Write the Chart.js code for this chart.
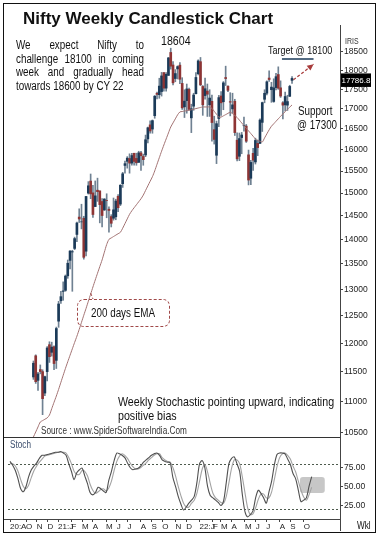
<!DOCTYPE html>
<html><head><meta charset="utf-8">
<script src="https://cdn.jsdelivr.net/npm/chart.js@4.4.0/dist/chart.umd.min.js"></script>
<style>
html,body{margin:0;padding:0;background:#fff;}
body{width:386px;height:546px;position:relative;overflow:hidden;font-family:"Liberation Sans",Arial,sans-serif;color:#111;}
canvas{position:absolute;left:0;top:0;}
.t{position:absolute;white-space:nowrap;line-height:1;}
.n{transform:scaleX(0.82);transform-origin:0 0;}
#frame{position:absolute;left:3px;top:3px;width:371px;height:528px;border:1.5px solid #111;}
#title{left:23px;top:9px;font:bold 17px "Liberation Sans",Arial,sans-serif;}
#note{position:absolute;left:16px;top:39px;width:156px;font-size:12px;line-height:13.7px;transform:scaleX(0.82);transform-origin:0 0;}
#note div{text-align:justify;text-align-last:justify;white-space:nowrap;}
#note div.last{text-align:left;text-align-last:left;}
#emaBox{position:absolute;left:77px;top:299px;width:93px;height:28px;box-sizing:border-box;border:1px dashed #a04848;border-radius:7px;font-size:12px;line-height:26px;text-align:center;}
#emaBox span{display:inline-block;transform:scaleX(0.82);transform-origin:50% 50%;}
</style></head>
<body>
<div id="frame"></div>
<canvas id="price" width="386" height="546"></canvas>
<canvas id="stoch" width="386" height="546"></canvas>
<div class="t" id="title">Nifty Weekly Candlestick Chart</div>
<div id="note"><div>We expect Nifty to</div><div>challenge 18100 in coming</div><div>week and gradually head</div><div class="last">towards 18600 by CY 22</div></div>
<div class="t n" style="left:161px;top:34px;font-size:13px;">18604</div>
<div class="t n" style="left:268px;top:45px;font-size:11px;">Target @ 18100</div>
<div class="t n" style="left:298px;top:105px;font-size:12px;">Support</div>
<div class="t n" style="left:297px;top:119px;font-size:12px;">@ 17300</div>
<div id="emaBox"><span>200 days EMA</span></div>
<div class="t n" style="left:118px;top:395px;font-size:13px;">Weekly Stochastic pointing upward, indicating</div>
<div class="t n" style="left:118px;top:409px;font-size:13px;">positive bias</div>
<div class="t n" style="left:41px;top:426px;font-size:10px;color:#333;">Source : www.SpiderSoftwareIndia.Com</div>
<div class="t n" style="left:10px;top:440px;font-size:10px;color:#3d4f6e;">Stoch</div>
<div class="t n" style="left:357px;top:521px;font-size:10px;">Wkl</div>
<div class="t n" style="left:345px;top:37px;font-size:8.5px;color:#333;">IRIS</div>
<script>
const weeks = ['2020-08-28','2020-09-04','2020-09-11','2020-09-18','2020-09-25','2020-10-02','2020-10-09','2020-10-16','2020-10-23','2020-10-30','2020-11-06','2020-11-13','2020-11-20','2020-11-27','2020-12-04','2020-12-11','2020-12-18','2020-12-24',
'2021-01-01','2021-01-08','2021-01-15','2021-01-22','2021-01-29','2021-02-05','2021-02-12','2021-02-19','2021-02-26','2021-03-05','2021-03-12','2021-03-19','2021-03-26','2021-04-01','2021-04-09','2021-04-16','2021-04-23','2021-04-30','2021-05-07','2021-05-14','2021-05-21','2021-05-28','2021-06-04','2021-06-11','2021-06-18','2021-06-25','2021-07-02','2021-07-09','2021-07-16','2021-07-23','2021-07-30','2021-08-06','2021-08-13','2021-08-20','2021-08-27','2021-09-03','2021-09-10','2021-09-17','2021-09-24','2021-10-01','2021-10-08','2021-10-15','2021-10-22','2021-10-29','2021-11-04','2021-11-12','2021-11-19','2021-11-26','2021-12-03','2021-12-10','2021-12-17','2021-12-24','2021-12-31',
'2022-01-07','2022-01-14','2022-01-21','2022-01-28','2022-02-04','2022-02-11','2022-02-18','2022-02-25','2022-03-04','2022-03-11','2022-03-17','2022-03-25','2022-04-01','2022-04-08','2022-04-13','2022-04-22','2022-04-29','2022-05-06','2022-05-13','2022-05-20','2022-05-27','2022-06-03','2022-06-10','2022-06-17','2022-06-24','2022-07-01','2022-07-08','2022-07-15','2022-07-22','2022-07-29','2022-08-05','2022-08-12','2022-08-19','2022-08-26','2022-09-02','2022-09-09','2022-09-16','2022-09-23','2022-09-30','2022-10-07','2022-10-14','2022-10-21','2022-10-28'];

const open  = [11412,11777,11355,11539,11503,11142,11503,11973,11838,11937,11697,12399,12781,12960,12980,13264,13572,13742,
13815,14105,14474,14371,14449,13758,14999,15270,15004,14702,15064,15048,14813,14628,14837,14644,14485,14449,14481,14928,14756,15211,15629,15725,15791,15683,15915,15793,15700,15923,15839,15874,16258,16600,16497,16828,17400,17363,17443,17941,17532,17867,18487,18145,17784,18040,18141,17655,17051,17209,17499,16774,17068,
17387,17913,18235,17575,17339,17456,17103,17192,16482,15867,16757,17329,17181,17810,17583,17183,16999,17193,16227,15843,16290,16578,16570,15877,15334,15912,15710,16151,16150,16662,17244,17401,17797,17491,17188,17546,17890,17540,17156,17102,17094,17322,17736];
const high  = [11686,11794,11493,11618,11535,11428,11939,12025,12018,11954,12290,12770,12963,13145,13280,13579,13773,13777,
14049,14367,14653,14753,14491,14925,15257,15431,15176,15273,15336,15048,14878,14876,14984,14697,14526,14890,14863,14967,15189,15469,15733,15835,15901,15915,15915,15915,15962,15962,15893,16350,16543,16701,16722,17340,17430,17792,17947,17943,17941,18351,18604,18241,18022,18123,18210,17806,17489,17639,17534,17118,17400,
17944,18286,18350,17599,17794,17640,17490,17351,16815,16694,17344,17442,17704,18114,17595,17414,17400,17244,16404,16400,16415,16793,16610,15990,15749,16033,16275,16229,16752,17172,17490,17724,17992,17685,17777,17925,18096,17723,17188,17428,17348,17607,17838];
const low   = [11371,11303,11185,11465,10790,11101,11347,11661,11771,11535,11557,12286,12730,12790,12962,13214,13402,12962,
13790,13954,14357,14222,13596,13662,14977,14875,14467,14702,14816,14350,14264,14617,14459,14151,14263,14408,14416,14591,14723,15126,15450,15566,15450,15635,15635,15632,15700,15513,15633,15834,16162,16395,16395,16764,17254,17269,17326,17452,17452,17865,18034,17613,17699,17772,17648,16985,16782,16891,16966,16410,16964,
17384,17880,17599,16837,17245,16809,16810,16203,16133,15671,16556,16838,16978,17600,17442,16824,16889,16340,15735,15740,15903,16444,16172,15183,15191,15511,15661,15858,16140,16438,17154,17359,17710,17166,17167,17487,17500,17291,16747,16950,16960,17311,17656];
const close = [11647,11333,11464,11505,11050,11417,11914,11762,11930,11642,12264,12720,12859,12969,13258,13514,13761,13749,
14018,14347,14433,14372,13634,14924,15163,14982,14529,14938,15031,14744,14507,14867,14834,14617,14341,14631,14823,14677,15175,15436,15670,15799,15683,15860,15722,15690,15924,15856,15763,16238,16529,16450,16705,17323,17369,17585,17853,17532,17895,18338,18114,17671,17916,18102,17765,17026,17196,17511,16985,17003,17354,
17812,18256,17617,17102,17516,17374,17276,16658,16245,16630,17287,17153,17670,17784,17475,17171,17102,16411,15782,16266,16352,16584,16202,15293,15699,15752,16220,16049,16719,17158,17398,17698,17758,17559,17539,17833,17531,17327,17094,17315,17185,17576,17786.8];

const ema200 = [10438,10516,10595,10673,10695,10717,10738,10784,10887,10990,11093,11203,11322,11440,11559,11673,11786,11900,12013,12126,
12248,12378,12508,12637,12772,12908,13045,13181,13314,13447,13580,13738,13895,14002,14032,14061,14091,14120,14150,14236,
14335,14435,14534,14610,14676,14741,14807,14873,14954,15058,15161,15265,15369,15502,15656,15809,15963,16111,16257,16403,
16548,16649,16749,16850,16923,16933,16944,16954,16965,16977,16992,17007,17021,17036,17048,17048,17048,17048,17012,16939,
16866,16794,16794,16824,16855,16886,16917,16879,16834,16784,16717,16649,16582,16516,16451,16387,16322,16258,16220,16201,
16182,16281,16380,16479,16566,16627,16689,16750,16812,16872,16929,16986,17043,17100];

const stochK = [83,78,71,60,47,43,50,63,72,77, 81,87,91,91,92,93,94,95,95,96, 94,91,80,70,59,68,72,74,64,54, 42,39,42,49,47,44,42,58,70,84,
94,93,91,88,81,75,72,73,74,77, 82,85,88,91,93,94,91,85,83, 82,81,62,50,37,27,19,23,28,32, 37,55,80,84,74,50,38,35,32,29,
25,31,55,80,87,89,80,70,40,17, 10,13,18,35,45,41,35,28,43,57, 78,92,94,94,93,86,79,67,60,45, 30,32,35,50,63];
const stochD = [80,80,77,70,59,50,47,52,62,71, 77,82,86,90,91,92,93,94,95,95, 95,94,88,80,70,66,66,71,70,64, 53,45,41,43,46,47,44,48,57,71,
83,90,93,91,87,81,76,73,73,75, 78,81,85,88,91,93,93,88,85, 83,82,75,64,50,38,28,23,23,28, 32,41,57,73,79,69,54,41,35,32,
29,28,37,55,74,85,85,80,63,42, 22,13,14,22,33,40,40,35,35,43, 59,76,88,93,94,91,86,77,69,57, 45,36,32,39,49];

const priceTicks = [10500,11000,11500,12000,12500,13000,13500,14000,14500,15000,15500,16000,16500,17000,17500,18000,18500];
const stochTicks = [25,50,75];
const stochLevels = [80,20];
const monthTickIdx = [0,6,10,14,18,23,27,31,36,40,44,49,53,57,62,66,71,76,79,83,88,92,96,101,105,110];
const monthTickLabels = ['20:A','O','N','D','21:J','F','M','A','M','J','J','A','S','O','N','D','22:J','F','M','A','M','J','J','A','S','O'];

const FONT = '"Liberation Sans",Arial,sans-serif';
const UP = '#1b3a58', DOWN = '#8e3434', WICK = '#6f8192';
const bodyColors = close.map((c, i) => c >= open[i] ? UP : DOWN);
const X_MIN = -0.75, X_MAX = 123.6;

const pricePlugin = {
  id: 'priceDecor',
  afterDraw(chart) {
    const {ctx, chartArea: a, scales: {x, y}} = chart;
    ctx.save();
    ctx.strokeStyle = '#333'; ctx.lineWidth = 1;
    ctx.beginPath(); ctx.moveTo(4, a.bottom + 0.5); ctx.lineTo(a.right, a.bottom + 0.5); ctx.stroke();
    const ty = y.getPixelForValue(18305);
    ctx.strokeStyle = UP; ctx.lineWidth = 1.5;
    ctx.beginPath(); ctx.moveTo(x.getPixelForValue(108.6), ty); ctx.lineTo(x.getPixelForValue(122.4), ty); ctx.stroke();
    const x1 = x.getPixelForValue(113.6), y1 = y.getPixelForValue(17748);
    const x2 = x.getPixelForValue(122.4), y2 = y.getPixelForValue(18166);
    ctx.strokeStyle = '#a83b3b'; ctx.fillStyle = '#a83b3b'; ctx.lineWidth = 1.2; ctx.setLineDash([3, 2]);
    ctx.beginPath(); ctx.moveTo(x1, y1); ctx.lineTo(x2, y2); ctx.stroke();
    ctx.setLineDash([]);
    const ang = Math.atan2(y2 - y1, x2 - x1), L = 7;
    ctx.beginPath(); ctx.moveTo(x2, y2);
    ctx.lineTo(x2 - L * Math.cos(ang - 0.45), y2 - L * Math.sin(ang - 0.45));
    ctx.lineTo(x2 - L * Math.cos(ang + 0.45), y2 - L * Math.sin(ang + 0.45));
    ctx.closePath(); ctx.fill();
    ctx.strokeStyle = '#a04848'; ctx.lineWidth = 1; ctx.setLineDash([3, 2]);
    ctx.beginPath(); ctx.moveTo(x.getPixelForValue(25), y.getPixelForValue(ema200[25]) - 1); ctx.lineTo(93, 299); ctx.stroke();
    ctx.setLineDash([]);
    const last = close.length - 1;
    const yc = y.getPixelForValue(close[last]);
    ctx.fillStyle = '#000'; ctx.fillRect(a.right + 1, yc - 5, 30, 13.5);
    ctx.fillStyle = '#fff'; ctx.font = '8px ' + FONT; ctx.textBaseline = 'middle'; ctx.textAlign = 'left';
    ctx.fillText(close[last].toFixed(1), a.right + 1.5, yc + 2);
    ctx.restore();
  }
};

new Chart(document.getElementById('price'), {
  type: 'bar',
  data: {
    datasets: [
      {type: 'line', label: 'EMA', data: ema200.map((v, i) => ({x: i, y: v})), borderColor: '#a27272', borderWidth: 1, pointRadius: 0, tension: 0.25, order: 0},
      {label: 'wick', data: weeks.map((w, i) => ({x: i, y: [low[i], high[i]]})), backgroundColor: WICK, barThickness: 1, grouped: false, order: 2},
      {label: 'body', data: weeks.map((w, i) => ({x: i, y: [Math.min(open[i], close[i]), Math.max(open[i], close[i])]})), backgroundColor: bodyColors, barThickness: 2, grouped: false, order: 1}
    ]
  },
  options: {
    responsive: false, animation: false, events: [], devicePixelRatio: 1,
    layout: {padding: {left: 8, top: 25, right: 0, bottom: 109}},
    plugins: {legend: {display: false}, tooltip: {enabled: false}},
    scales: {
      x: {type: 'linear', min: X_MIN, max: X_MAX, display: false},
      y: {type: 'logarithmic', position: 'right', min: 10437.7, max: 19257,
        afterBuildTicks: s => { s.ticks = priceTicks.map(v => ({value: v})); },
        afterFit: s => { s.width = 46; },
        ticks: {callback: v => String(v), autoSkip: false, font: {family: FONT, size: 8.5}, color: '#222', padding: 1},
        grid: {drawOnChartArea: false, drawTicks: true, tickLength: 3, color: '#444'},
        border: {display: true, color: '#444'}
      }
    }
  },
  plugins: [pricePlugin]
});

const stochPlugin = {
  id: 'stochDecor',
  beforeDatasetsDraw(chart) {
    const {ctx, chartArea: a, scales: {x, y}} = chart;
    ctx.save();
    const bx1 = x.getPixelForValue(108.6), bx2 = x.getPixelForValue(117.9);
    const by1 = y.getPixelForValue(62.5), by2 = y.getPixelForValue(41.4);
    ctx.fillStyle = 'rgba(175,175,175,0.7)';
    ctx.beginPath();
    if (ctx.roundRect) ctx.roundRect(bx1, by1, bx2 - bx1, by2 - by1, 3); else ctx.rect(bx1, by1, bx2 - bx1, by2 - by1);
    ctx.fill();
    ctx.strokeStyle = '#4d5a4d'; ctx.lineWidth = 1; ctx.setLineDash([2, 2]);
    stochLevels.forEach(l => {
      const py = Math.round(y.getPixelForValue(l)) + 0.5;
      ctx.beginPath(); ctx.moveTo(a.left, py); ctx.lineTo(a.right, py); ctx.stroke();
    });
    ctx.restore();
  },
  afterDraw(chart) {
    const {ctx, chartArea: a} = chart;
    ctx.save();
    ctx.strokeStyle = '#444'; ctx.lineWidth = 1;
    ctx.beginPath(); ctx.moveTo(a.right + 0.5, a.bottom); ctx.lineTo(a.right + 0.5, a.bottom + 12); ctx.stroke();
    ctx.beginPath(); ctx.moveTo(4, a.bottom + 0.5); ctx.lineTo(a.left, a.bottom + 0.5); ctx.stroke();
    ctx.restore();
  }
};

new Chart(document.getElementById('stoch'), {
  type: 'line',
  data: {
    datasets: [
      {label: '%K', data: stochK.map((v, i) => ({x: i, y: v})), borderColor: '#505050', borderWidth: 1.1, pointRadius: 0, tension: 0.3},
      {label: '%D', data: stochD.map((v, i) => ({x: i, y: v})), borderColor: '#a3a3a3', borderWidth: 1.1, pointRadius: 0, tension: 0.3}
    ]
  },
  options: {
    responsive: false, animation: false, events: [], devicePixelRatio: 1,
    layout: {padding: {left: 8, top: 437, right: 0, bottom: 13}},
    plugins: {legend: {display: false}, tooltip: {enabled: false}},
    scales: {
      x: {type: 'linear', min: X_MIN, max: X_MAX, position: 'bottom',
        afterBuildTicks: s => { s.ticks = monthTickIdx.map(v => ({value: v})); },
        afterFit: s => { s.height = 14; },
        ticks: {callback: (v, i) => monthTickLabels[i], align: 'start', autoSkip: false, maxRotation: 0, font: {family: FONT, size: 8}, color: '#222', padding: 0},
        grid: {drawOnChartArea: false, drawTicks: true, tickLength: 3, color: '#444'},
        border: {display: true, color: '#444'}
      },
      y: {position: 'right', min: 7.2, max: 115.1,
        afterBuildTicks: s => { s.ticks = stochTicks.map(v => ({value: v})); },
        afterFit: s => { s.width = 46; },
        ticks: {callback: v => Number(v).toFixed(2), autoSkip: false, font: {family: FONT, size: 8.5}, color: '#222', padding: 1},
        grid: {drawOnChartArea: false, drawTicks: true, tickLength: 3, color: '#444'},
        border: {display: true, color: '#444'}
      }
    }
  },
  plugins: [stochPlugin]
});
</script>
</body></html>
